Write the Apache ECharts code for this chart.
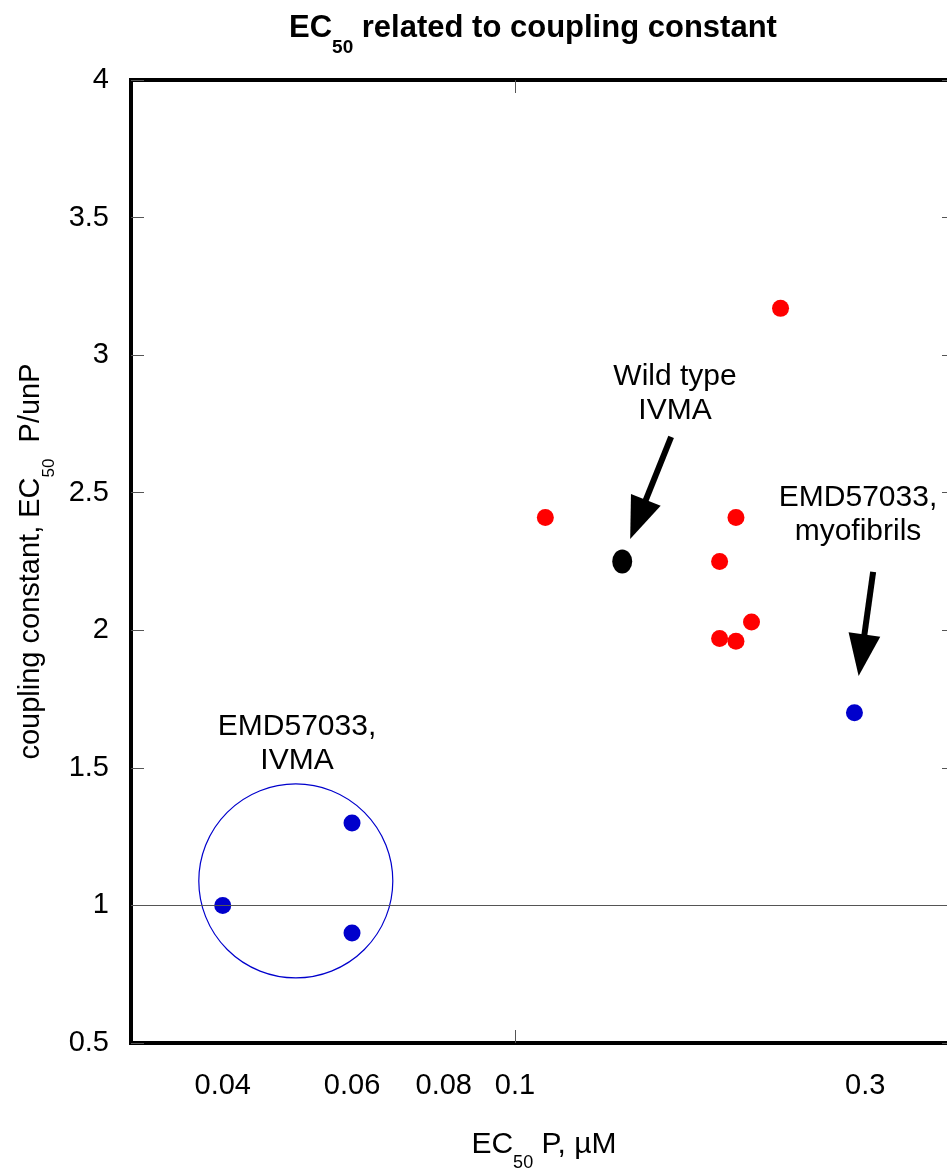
<!DOCTYPE html>
<html>
<head>
<meta charset="utf-8">
<title>EC50 related to coupling constant</title>
<script src="https://cdn.jsdelivr.net/npm/echarts@6/dist/echarts.min.js"></script>
<style>
  html, body { margin: 0; padding: 0; background: #fff; }
  #main { width: 947px; height: 1175px; }
</style>
</head>
<body>
<div id="main"></div>
<script>
// values: [EC50 P (uM), coupling constant]
const mutantPoints = [[0.11, 2.41], [0.23, 3.17], [0.2, 2.41], [0.19, 2.25], [0.21, 2.03], [0.19, 1.97], [0.2, 1.96]];
const wildTypePoints = [[0.14, 2.25]];
const emdPoints = [[0.04, 1.0], [0.06, 1.3], [0.06, 0.9], [0.29, 1.7]];
const xTickLabels = [0.04, 0.06, 0.08, 0.1, 0.3];
const xTickMarks = [0.1];
const referenceLevel = 1;

// annotations, in data units
const wildTypeArrow = [[0.1632, 2.703], [0.1471, 2.403]];
const myofibrilArrow = [[0.3075, 2.212], [0.2965, 1.909]];
const ivmaGroupCentre = [[0.0503, 1.089]];

const FONT = "'Liberation Sans', Arial, sans-serif";
const lg = v => Math.log10(v);
const toLog = pts => pts.map(p => [lg(p[0]), p[1]]);

let myChart = echarts.init(document.getElementById('main'), null, { renderer: 'canvas' });

const subRich = (size, pad) => ({
  m: { fontSize: size, fontFamily: FONT, color: '#000', lineHeight: size + 4 },
  mb: { fontSize: size, fontFamily: FONT, color: '#000', fontWeight: 'bold', lineHeight: size + 4 },
  s: { fontSize: Math.round(size * 0.6), fontFamily: FONT, color: '#000', lineHeight: Math.round(size * 0.6), padding: [pad, 0, 0, 0] },
  sb: { fontSize: Math.round(size * 0.6), fontFamily: FONT, color: '#000', fontWeight: 'bold', lineHeight: Math.round(size * 0.6), padding: [pad, 0, 0, 0] }
});

function arrowLine(pts) {
  return [
    { coord: [lg(pts[0][0]), pts[0][1]], symbol: 'none' },
    { coord: [lg(pts[1][0]), pts[1][1]], symbol: 'triangle', symbolSize: [32, 42] }
  ];
}

let option = {
  animation: false,
  title: {
    text: '{mb|EC}{sb|50}{mb| related to coupling constant}',
    left: 284,
    top: 6,
    textStyle: { rich: subRich(31, 38) }
  },
  grid: {
    left: 131, right: -10, top: 80, bottom: 132,
    outerBoundsMode: 'none',
    containLabel: false,
    show: true, borderColor: '#000', borderWidth: 4
  },
  xAxis: [{
    type: 'value',
    min: lg(0.03), max: lg(0.4),
    name: '{m|EC}{s|50}{m| P, µM}',
    nameLocation: 'middle',
    nameGap: 85,
    nameTextStyle: { rich: subRich(30, 36) },
    axisLine: { show: false },
    splitLine: { show: false },
    axisTick: { inside: true, length: 13, lineStyle: { color: '#555', width: 1 }, customValues: xTickMarks.map(lg) },
    axisLabel: {
      customValues: xTickLabels.map(lg),
      fontSize: 29, fontFamily: FONT, color: '#000', margin: 28,
      formatter: v => String(parseFloat(Math.pow(10, v).toPrecision(2)))
    }
  }, {
    type: 'value', position: 'top',
    min: lg(0.03), max: lg(0.4),
    axisLine: { show: false },
    splitLine: { show: false },
    axisTick: { inside: true, length: 13, lineStyle: { color: '#555', width: 1 }, customValues: xTickMarks.map(lg) },
    axisLabel: { show: false }
  }],
  yAxis: [{
    type: 'value',
    min: 0.5, max: 4, interval: 0.5,
    name: '{m|coupling constant, EC}{s|50}{m|  P/unP}',
    nameLocation: 'middle',
    nameRotate: 90,
    nameGap: 74,
    nameTextStyle: { rich: subRich(29, 36) },
    axisLine: { show: false },
    splitLine: { show: false },
    axisTick: { inside: true, length: 13, lineStyle: { color: '#555', width: 1 } },
    axisLabel: { fontSize: 29, fontFamily: FONT, color: '#000', margin: 22 }
  }, {
    type: 'value', position: 'right',
    min: 0.5, max: 4, interval: 0.5,
    axisLine: { show: false },
    splitLine: { show: false },
    axisTick: { inside: true, length: 15, lineStyle: { color: '#555', width: 1 } },
    axisLabel: { show: false }
  }],
  series: [
    {
      name: 'EMD57033, IVMA group',
      type: 'scatter',
      silent: true,
      symbol: 'circle',
      symbolSize: 194,
      itemStyle: { color: 'rgba(0,0,0,0)', borderColor: '#0000cc', borderWidth: 1.2, opacity: 1 },
      data: toLog(ivmaGroupCentre),
      markLine: {
        silent: true,
        symbol: 'none',
        label: { show: false },
        lineStyle: { color: '#555', width: 1.2, type: 'solid' },
        data: [{ yAxis: referenceLevel }]
      }
    },
    {
      name: 'mutants',
      type: 'scatter',
      symbolSize: 17,
      itemStyle: { color: '#ff0000', opacity: 1 },
      data: toLog(mutantPoints)
    },
    {
      name: 'EMD57033',
      type: 'scatter',
      symbolSize: 17,
      itemStyle: { color: '#0000cc', opacity: 1 },
      data: toLog(emdPoints)
    },
    {
      name: 'Wild type',
      type: 'scatter',
      symbolSize: [20, 24],
      itemStyle: { color: '#000', opacity: 1 },
      data: toLog(wildTypePoints),
      markLine: {
        silent: true,
        label: { show: false },
        lineStyle: { color: '#000', width: 6, type: 'solid', opacity: 1 },
        itemStyle: { color: '#000', opacity: 1 },
        data: [arrowLine(wildTypeArrow), arrowLine(myofibrilArrow)]
      }
    }
  ],
  graphic: [
    { type: 'text', x: 675, y: 360, style: { text: 'Wild type\nIVMA', fill: '#000', font: '30px ' + FONT, textAlign: 'center', lineHeight: 34 } },
    { type: 'text', x: 858, y: 481, style: { text: 'EMD57033,\nmyofibrils', fill: '#000', font: '30px ' + FONT, textAlign: 'center', lineHeight: 34 } },
    { type: 'text', x: 297, y: 710, style: { text: 'EMD57033,\nIVMA', fill: '#000', font: '30px ' + FONT, textAlign: 'center', lineHeight: 34 } }
  ]
};

myChart.setOption(option);
</script>
</body>
</html>
